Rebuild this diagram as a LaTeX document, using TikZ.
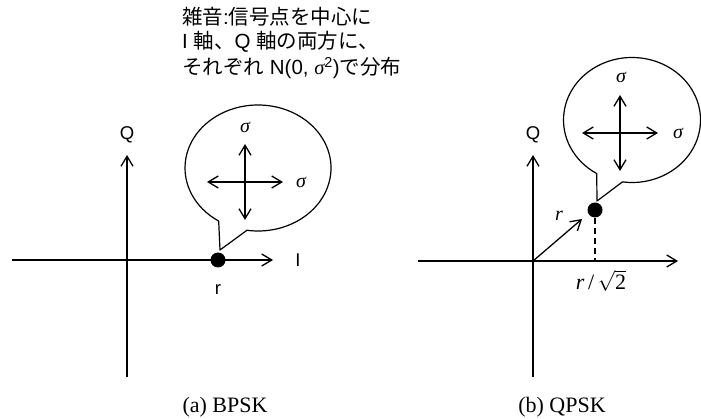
\documentclass[tikz,border=0pt]{standalone}
\usepackage{fontspec}
\setmainfont{Liberation Sans}
\newfontfamily\jp{Noto Sans CJK JP}
\newfontfamily\tms{Liberation Serif}
\usetikzlibrary{arrows.meta,calc}
\tikzset{
  axis/.style={line width=1.3pt,-{Straight Barb[length=10pt,width=12pt,line width=1.3pt]}},
  both/.style={line width=1.3pt,{Straight Barb[length=10pt,width=12pt,line width=1.3pt]}-{Straight Barb[length=10pt,width=12pt,line width=1.3pt]}},
  bubble/.style={line width=1.2pt,line join=round},
  dotnode/.style={circle,fill=black,inner sep=0pt,minimum size=15pt},
  lbl/.style={font=\fontsize{18.5}{21}\selectfont,inner sep=0pt},
  sig/.style={font=\fontsize{20}{22}\selectfont\tms\itshape,inner sep=0pt},
  note/.style={font=\fontsize{20.5}{23}\selectfont,anchor=west,inner sep=0pt},
  captext/.style={font=\fontsize{22}{24}\selectfont\tms,inner sep=0pt,anchor=base}
}
\begin{document}
\begin{tikzpicture}[x=1pt,y=-1pt]
\useasboundingbox (0,0) rectangle (701,419);
% top note
\node[note] (n1) at (182,17) {{\jp 雑音}:{\jp 信号点を中心に}};
\node[note] (n2) at (182,42) {I {\jp 軸、}Q {\jp 軸の両方に、}};
\node[note] (n3) at (182,68) {{\jp それぞれ} N(0, {\tms\itshape σ}\textsuperscript{2}){\jp で分布}};
% ---------- (a) BPSK ----------
\coordinate (aL) at (12,260);
\coordinate (aR) at (273,260);
\coordinate (aB) at (127,377);
\coordinate (aT) at (127,155);
\draw[axis] (aL) -- (aR);
\draw[axis] (aB) -- (aT);
\node[lbl] (aQ) at (127,135) {Q};
\node[lbl] (aI) at (298,260) {I};
\node[dotnode] (ad) at (218,260) {};
\node[lbl] (ar) at (218,290) {r};
\coordinate (ac) at (258,168);
\coordinate (atip) at (220,250);
\draw[bubble] (atip) -- ($(ac)+(98.7:73 and 63)$) arc[start angle=98.7,end angle=-237.4,x radius=73,y radius=63] -- cycle;
\coordinate (ax1) at (207,182);
\coordinate (ax2) at (283,182);
\coordinate (ay1) at (245,144);
\coordinate (ay2) at (245,220);
\draw[both] (ax1) -- (ax2);
\draw[both] (ay1) -- (ay2);
\node[sig] (as1) at (245,127) {σ};
\node[sig] (as2) at (301,182) {σ};
\node[captext] (acap) at (225,412) {(a) BPSK};
% ---------- (b) QPSK ----------
\coordinate (bL) at (418,261);
\coordinate (bR) at (678,261);
\coordinate (bB) at (533,377);
\coordinate (bT) at (533,155);
\coordinate (bO) at (533,261);
\draw[axis] (bL) -- (bR);
\draw[axis] (bB) -- (bT);
\node[lbl] (bQ) at (533,135) {Q};
\node[dotnode] (bd) at (595,210) {};
\coordinate (bV) at (582,219);
\draw[axis] (bO) -- (bV);
\node[sig] (br) at (559,216) {r};
\coordinate (bfoot) at (595,261);
\draw[line width=1.3pt,dash pattern=on 6pt off 4pt] (bd) -- (bfoot);
\node[font=\fontsize{22}{24}\selectfont\tms,inner sep=0pt] (brs) at (601,281) {{\itshape r}\,/\,$\sqrt{\mbox{\tms 2}}$};
\coordinate (bc) at (632,120);
\coordinate (btip) at (597,201);
\draw[bubble] (btip) -- ($(bc)+(98:68.5 and 62.5)$) arc[start angle=98,end angle=-239,x radius=68.5,y radius=62.5] -- cycle;
\coordinate (bx1) at (582,133);
\coordinate (bx2) at (658,133);
\coordinate (by1) at (620,95);
\coordinate (by2) at (620,171);
\draw[both] (bx1) -- (bx2);
\draw[both] (by1) -- (by2);
\node[sig] (bs1) at (621,77) {σ};
\node[sig] (bs2) at (678,133) {σ};
\node[captext] (bcap) at (562,412) {(b) QPSK};
\end{tikzpicture}
\end{document}
